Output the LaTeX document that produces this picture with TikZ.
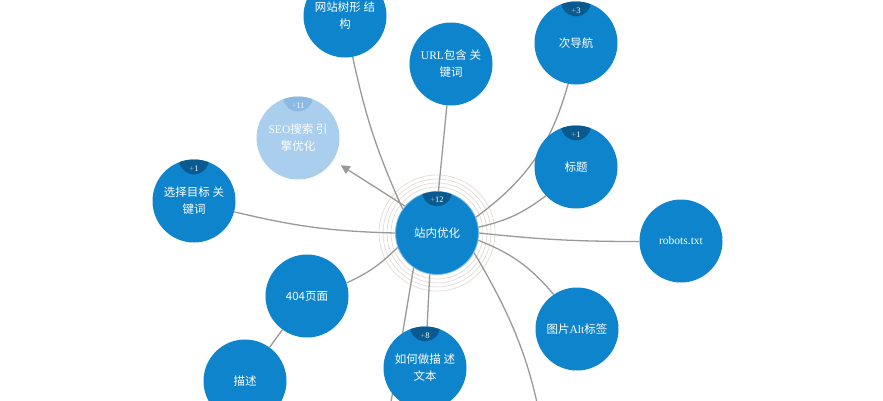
\documentclass[tikz,border=0pt]{standalone}
\usepackage{fontspec}
\setmainfont{Liberation Serif}
\newfontfamily\cjk{Noto Sans CJK SC}
\usetikzlibrary{backgrounds,calc,arrows.meta}
\definecolor{nodeblue}{HTML}{0E84CC}
\definecolor{badgeblue}{HTML}{0A5A90}
\definecolor{lightblue}{HTML}{A9CEEE}
\definecolor{lightbadge}{HTML}{8CB9E1}
\definecolor{linkgray}{HTML}{999999}
\definecolor{ringgray}{HTML}{E2DAD5}
\tikzset{
  topic/.style={circle, fill=nodeblue, minimum size=83pt, inner sep=0pt, text=white,
    align=center, font=\fontsize{11.5}{17}\selectfont\cjk},
  faded/.style={topic, fill=lightblue},
  hub/.style={topic, draw=nodeblue!55!white, line width=0.8pt},
  link/.style={draw=linkgray, line width=1.3pt},
  ring/.style={draw=ringgray, line width=0.7pt},
  badgetext/.style={text=white, font=\fontsize{8.5}{9}\selectfont, inner sep=0pt},
}
\newcommand\mybadge[3][badgeblue]{%
  \begin{scope}
    \clip (#2.center) circle (41.5pt);
    \fill[#1] (#2.north) circle (15pt);
  \end{scope}
  \node[badgetext] (#2-b) at ($(#2.north)+(0pt,-9pt)$) {{\color{white!55!#1}+}#3};}
\begin{document}
\begin{tikzpicture}[x=1pt,y=-1pt]
\useasboundingbox (0,0) rectangle (883,400);
\clip (0,0) rectangle (883,400);
\node[hub]   (c)   at (437,233) {站内优化};
\node[topic] (wz)  at (345,16)  {网站树形 结\\构};
\node[topic] (url) at (451,64)  {{\rmfamily URL}包含 关\\键词};
\node[topic] (cd)  at (576,43)  {次导航};
\node[faded] (seo) at (298,138) {{\rmfamily SEO}搜索 引\\擎优化};
\node[topic] (bt)  at (576,167) {标题};
\node[topic] (xz)  at (194,201) {选择目标 关\\键词};
\node[topic] (rb)  at (681,241) {\rmfamily robots.txt};
\node[topic] (p4)  at (307,296) {404页面};
\node[topic] (alt) at (577,329) {图片{\rmfamily Alt}标签};
\node[topic] (ms)  at (245,381) {描述};
\node[topic] (rh)  at (425,368) {如何做描 述\\文本};
\coordinate (off1) at (388,420);
\coordinate (off2) at (548,470);
\mybadge{c}{12}
\mybadge{cd}{3}
\mybadge[lightbadge]{seo}{11}
\mybadge{bt}{1}
\mybadge{xz}{1}
\mybadge{rh}{8}
\begin{scope}[on background layer]
  \foreach \r in {46,50,54,58} \draw[ring] (c) circle (\r);
  \draw[link] (c.145) to[bend left=6] (wz);
  \draw[link] (c.88) to (url);
  \draw[link] (c.22) to[bend right=19] (cd);
  \draw[link] (c.8) to[bend right=12] (bt);
  \draw[link] (c.0) to[bend right=3] (rb);
  \draw[link] (c.-10) to[bend left=14] (alt);
  \draw[link] (c.-28) to[bend left=12] (off2);
  \draw[link] (c.260) to (rh);
  \draw[link] (c.236) to (off1);
  \draw[link] (c.200) to[bend left=10] (p4);
  \draw[link] (c.180) to[bend left=6] (xz);
  \draw[link] (p4) to (ms);
  \draw[link, -{Triangle[length=9pt,width=9pt]}, shorten >=9pt] (c.140) to (seo);
\end{scope}
\end{tikzpicture}
\end{document}
